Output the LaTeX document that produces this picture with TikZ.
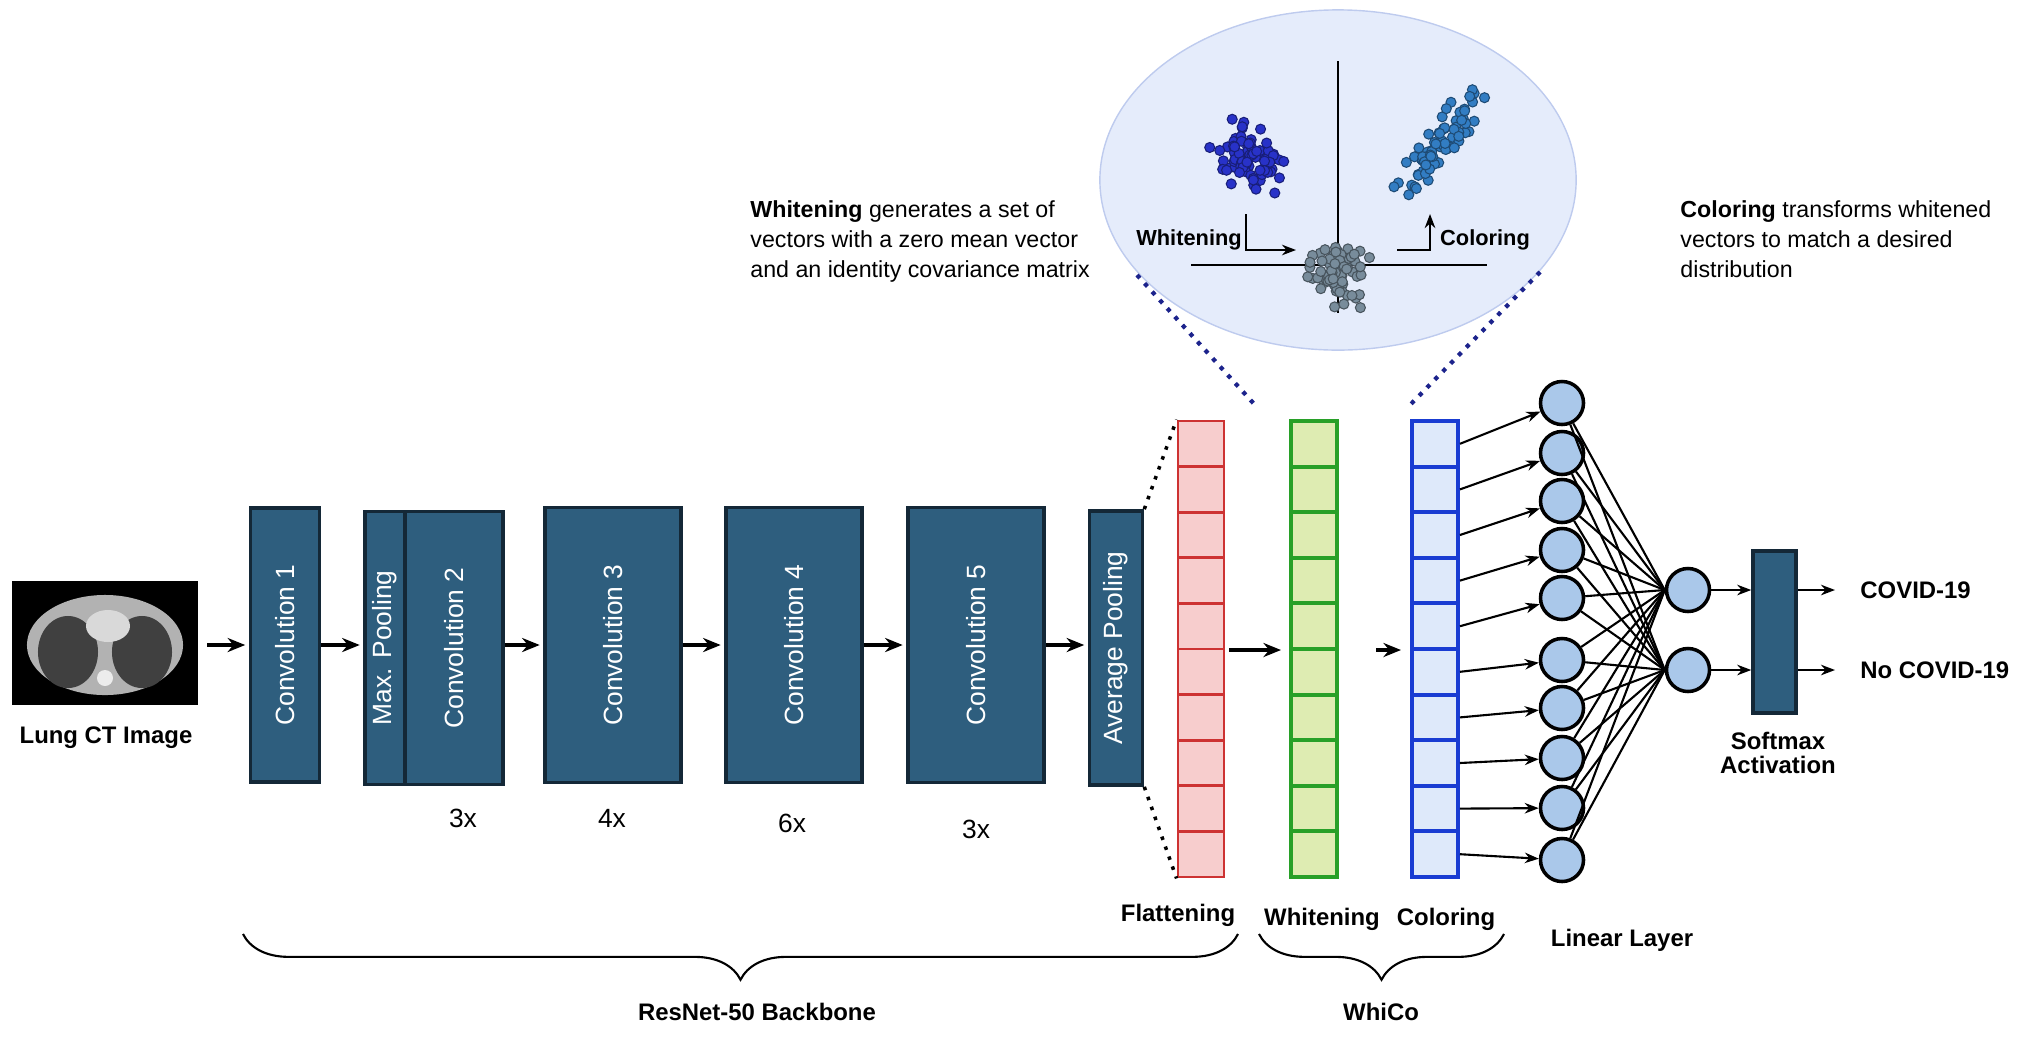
\documentclass[tikz,border=0pt]{standalone}
\usepackage{fontspec}
\setmainfont{Liberation Sans}
\usetikzlibrary{arrows.meta,decorations.pathreplacing,positioning}
\definecolor{boxblue}{RGB}{46,94,126}
\definecolor{boxedge}{RGB}{20,40,55}
\definecolor{flatfill}{RGB}{247,205,205}
\definecolor{flatedge}{RGB}{205,50,50}
\definecolor{whitefill}{RGB}{222,236,178}
\definecolor{whiteedge}{RGB}{40,160,40}
\definecolor{colfill}{RGB}{222,233,250}
\definecolor{coledge}{RGB}{25,60,210}
\definecolor{neuron}{RGB}{170,200,234}
\definecolor{bubble}{RGB}{229,236,251}
\definecolor{bubbleedge}{RGB}{190,203,238}
\definecolor{dotA}{RGB}{40,50,200}
\definecolor{dotB}{RGB}{120,140,155}
\definecolor{dotC}{RGB}{50,125,195}
\tikzset{
    layer/.style={draw=boxedge, fill=boxblue, line width=1pt, inner sep=0pt,
        text=white, rotate=90, font=\fontsize{7.5}{8}\selectfont},
    cell/.style={draw, inner sep=0pt, minimum width=0.46cm, minimum height=0.456cm,
        line width=0.8pt},
    unit/.style={circle, draw, fill=neuron, line width=1pt, minimum size=0.43cm, inner sep=0pt},
    lbl/.style={font=\bfseries\fontsize{6.8}{8}\selectfont, align=center},
    arr/.style={-{Stealth[length=5pt,width=4pt]}, line width=1.1pt},
    thin arr/.style={-{Stealth[length=4pt,width=3pt]}, line width=0.6pt}
}
\begin{document}
\begin{tikzpicture}[x=0.01cm, y=-0.01cm]
  \useasboundingbox (0,0) rectangle (2019,1039);

  % zoom bubble
  \fill[bubble, draw=bubbleedge] (1338,180) ellipse [x radius=2.38cm, y radius=1.70cm];
  \draw[line width=0.6pt] (1338,61) -- (1338,313);
  \draw[line width=0.6pt] (1191,265) -- (1487,265);
  \pgfmathsetseed{7}
  \foreach \i in {1,...,75}{
    \pgfmathsetmacro\u{(rand+rand+rand)*18}
    \pgfmathsetmacro\v{(rand+rand+rand)*13}
    \fill[dotA, draw=dotA!60!black, line width=0.3pt] (1247+0.75*\u+0.66*\v,160+0.66*\u-0.75*\v) circle [radius=0.05cm];
  }
  \foreach \i in {1,...,65}{
    \pgfmathsetmacro\u{(rand+rand+rand)*14}
    \pgfmathsetmacro\v{(rand+rand+rand)*16}
    \fill[dotB, draw=dotB!60!black, line width=0.3pt] (1338+\u,270+\v) circle [radius=0.05cm];
  }
  \foreach \i in {1,...,75}{
    \pgfmathsetmacro\u{(rand+rand+rand)*30}
    \pgfmathsetmacro\v{(rand+rand+rand)*8}
    \fill[dotC, draw=dotC!60!black, line width=0.3pt] (1440+0.6*\u+0.8*\v,143-0.8*\u+0.6*\v) circle [radius=0.05cm];
  }
  \node (wlab) [lbl, font=\bfseries\fontsize{6.2}{7}\selectfont] at (1189,240) {Whitening};
  \node (clab) [lbl, font=\bfseries\fontsize{6.2}{7}\selectfont] at (1485,240) {Coloring};
  \coordinate (w0) at (1246,214);
  \coordinate (w1) at (1296,250);
  \coordinate (c0) at (1397,250);
  \coordinate (c1) at (1430,214);
  \draw[thin arr] (w0) |- (w1);
  \draw[thin arr] (c0) -| (c1);

  \node (wtext) [anchor=north west, align=left, font=\fontsize{6.6}{8.6}\selectfont] at (738,188)
    {\textbf{Whitening} generates a set of\\vectors with a zero mean vector\\and an identity covariance matrix};
  \node (ctext) [anchor=north west, align=left, font=\fontsize{6.6}{8.6}\selectfont] at (1668,188)
    {\textbf{Coloring} transforms whitened\\vectors to match a desired\\distribution};

  % CT image
  \node (ct) [fill=black, minimum width=1.85cm, minimum height=1.23cm, inner sep=0pt] at (105,643) {};
  \fill[gray!60] (105,645) ellipse [x radius=0.78cm, y radius=0.50cm];
  \fill[black!75] (68,652) ellipse [x radius=0.30cm, y radius=0.36cm];
  \fill[black!75] (142,652) ellipse [x radius=0.30cm, y radius=0.36cm];
  \fill[gray!30] (108,626) ellipse [x radius=0.22cm, y radius=0.16cm];
  \fill[gray!15] (105,678) circle [radius=0.08cm];
  \node (ctl) [lbl] at (106,738) {Lung CT Image};

  % backbone
  \node (conv1) [layer, minimum width=2.74cm, minimum height=0.69cm] at (285,645) {Convolution 1};
  \node (pool) [layer, minimum width=2.73cm, minimum height=0.40cm] at (385,648) {Max. Pooling};
  \node (conv2) [layer, minimum width=2.73cm, minimum height=0.98cm] at (454,648) {Convolution 2};
  \node (conv3) [layer, minimum width=2.75cm, minimum height=1.36cm] at (613,645) {Convolution 3};
  \node (conv4) [layer, minimum width=2.75cm, minimum height=1.36cm] at (794,645) {Convolution 4};
  \node (conv5) [layer, minimum width=2.75cm, minimum height=1.36cm] at (976,645) {Convolution 5};
  \node (avg) [layer, minimum width=2.74cm, minimum height=0.53cm] at (1116,648) {Average Pooling};
  \node at (463,818) {\fontsize{7.5}{8}\selectfont 3x};
  \node at (612,818) {\fontsize{7.5}{8}\selectfont 4x};
  \node at (792,823) {\fontsize{7.5}{8}\selectfont 6x};
  \node at (976,829) {\fontsize{7.5}{8}\selectfont 3x};

  \coordinate (mid) at (0,645);
  \draw[arr, shorten <=2.5pt, shorten >=1pt] (ct.east |- mid) -- (conv1.north |- mid);
  \draw[arr, shorten >=1pt] (conv1.south |- mid) -- (pool.north |- mid);
  \draw[arr, shorten >=1pt] (conv2.south |- mid) -- (conv3.north |- mid);
  \draw[arr, shorten >=1pt] (conv3.south |- mid) -- (conv4.north |- mid);
  \draw[arr, shorten >=1pt] (conv4.south |- mid) -- (conv5.north |- mid);
  \draw[arr, shorten >=1pt] (conv5.south |- mid) -- (avg.north |- mid);

  % flatten, whitening, coloring columns
  \foreach \k in {1,...,10}{
    \node (f\k) [cell, draw=flatedge, fill=flatfill] at (1201,421+45.6*\k-22.8) {};
    \node (w\k) [cell, draw=whiteedge, fill=whitefill, line width=1.1pt] at (1314,421+45.6*\k-22.8) {};
    \node (c\k) [cell, draw=coledge, fill=colfill, line width=1.1pt] at (1435,421+45.6*\k-22.8) {};
  }
  \draw[dotted, line width=1pt] (avg.south east) -- (f1.north west);
  \draw[dotted, line width=1pt] (avg.south west) -- (f10.south west);
  \draw[arr, line width=1.4pt] (1229,650) -- (1281,650);
  \draw[arr, line width=1.4pt] (1376,650) -- (1401,650);

  \draw[dotted, dotA!70!black, line width=1.2pt] (1137,275) -- (1255,405);
  \draw[dotted, dotA!70!black, line width=1.2pt] (1540,272) -- (1410,405);

  \node at (1178,915) [lbl] {Flattening};
  \node at (1322,919) [lbl] {Whitening};
  \node at (1446,919) [lbl] {Coloring};

  % linear layer
  \foreach \k/\y in {1/403,2/453,3/501,4/550,5/598,6/660,7/708,8/758,9/808,10/860}{
    \node (n\k) [unit] at (1562,\y) {};
    \draw[thin arr] (c\k.east) -- (n\k);
  }
  \node (o1) [unit] at (1688,590) {};
  \node (o2) [unit] at (1688,670) {};
  \foreach \k in {1,...,10}{
    \draw[line width=0.6pt] (n\k) -- (o1.west);
    \draw[line width=0.6pt] (n\k) -- (o2.west);
  }
  \node (lin) [lbl] at (1622,940) {Linear Layer};

  \node (soft) [draw=boxedge, fill=boxblue, line width=1pt, minimum width=0.43cm, minimum height=1.62cm, inner sep=0pt] at (1774.5,632) {};
  \node (softl) [lbl] at (1778,753) {Softmax\\[-1pt]Activation};
  \draw[thin arr] (o1) -- (o1 -| soft.west);
  \draw[thin arr] (o2) -- (o2 -| soft.west);
  \coordinate (e1) at (1835,590);
  \coordinate (e2) at (1835,670);
  \draw[thin arr] (e1 -| soft.east) -- (e1);
  \draw[thin arr] (e2 -| soft.east) -- (e2);
  \node (covid) [lbl, anchor=west] at (1848,590) {COVID-19};
  \node (nocovid) [lbl, anchor=west] at (1848,670) {No COVID-19};

  % braces
  \draw[decorate, decoration={brace, mirror, amplitude=13pt}, line width=0.6pt] (243,934) -- (1238,934);
  \draw[decorate, decoration={brace, mirror, amplitude=13pt}, line width=0.6pt] (1259,934) -- (1504,934);
  \node at (757,1012) [lbl] {ResNet-50 Backbone};
  \node at (1381,1012) [lbl] {WhiCo};
\end{tikzpicture}
\end{document}
